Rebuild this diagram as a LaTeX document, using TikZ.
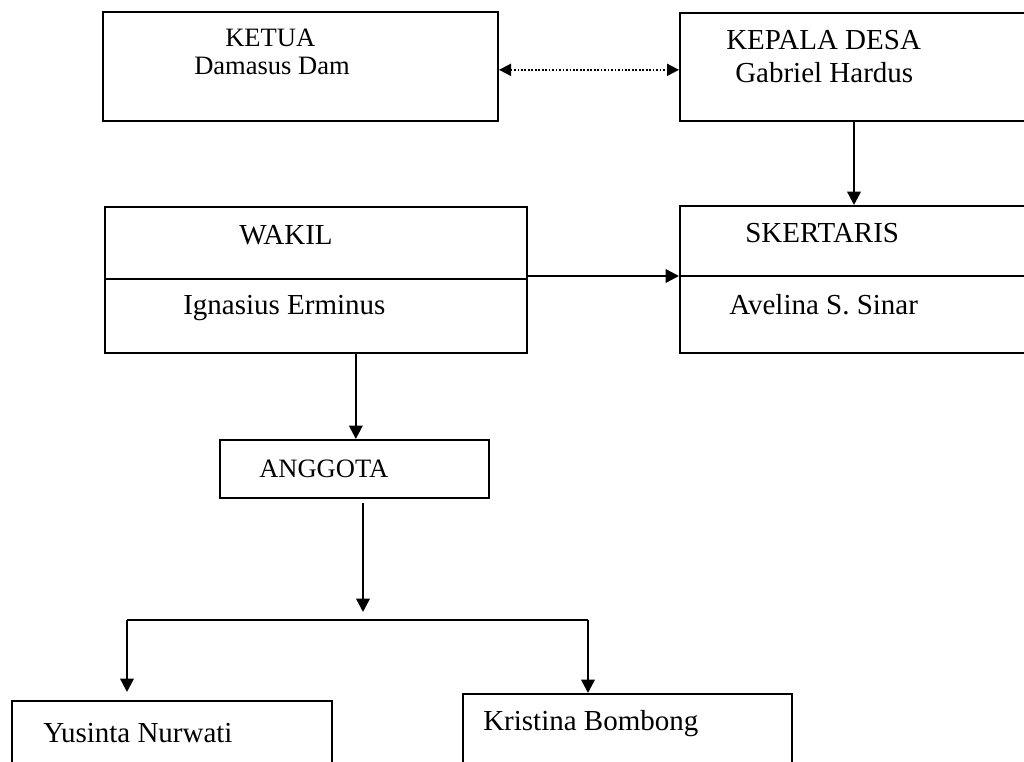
\documentclass[tikz,border=0pt]{standalone}
\usepackage{fontspec}
\setmainfont{Liberation Serif}
\usetikzlibrary{arrows.meta}
\begin{document}
\begin{tikzpicture}[x=0.75pt,y=-0.75pt,
  box/.style={draw, line width=1.5pt, rectangle, inner sep=0pt, anchor=north west},
  lbl/.style={anchor=base west, inner sep=0pt, font=\fontsize{21.75}{26}\selectfont},
  lblsm/.style={anchor=base west, inner sep=0pt, font=\fontsize{19.9}{24}\selectfont},
  conn/.style={line width=1.8pt, -{Triangle[length=10pt,width=10pt]}},
  plain/.style={line width=1.5pt},
  dots/.style={line width=1.3pt, dash pattern=on 1.3pt off 1.3pt,
    {Triangle[length=9pt,width=9pt]}-{Triangle[length=9pt,width=9pt]}}
]
\useasboundingbox (0,0) rectangle (1024,762);
\clip (0,0) rectangle (1024,762);

% boxes
\node[box, minimum width=296.25pt, minimum height=81.75pt] (ketua) at (102,11) {};
\node[box, minimum width=261pt, minimum height=81pt] (kepala) at (679,12) {};
\node[box, minimum width=316.5pt, minimum height=109.5pt] (wakil) at (104,206) {};
\node[box, minimum width=261pt, minimum height=110.25pt] (sekr) at (679,205) {};
\node[box, minimum width=201.75pt, minimum height=43.5pt] (anggota) at (219,439) {};
\node[box, minimum width=240pt, minimum height=75pt] (yusinta) at (11,700) {};
\node[box, minimum width=246.75pt, minimum height=75pt] (kristina) at (462,693) {};

% dividers
\draw[plain] (104,279) -- (526,279);
\draw[plain] (679,276) -- (1030,276);

% labels
\node[lblsm] (tketua) at (225,47) {KETUA};
\node[lblsm] (tdamasus) at (194,75) {Damasus Dam};
\node[lbl] (tkepala) at (726,50) {KEPALA DESA};
\node[lbl] (tgabriel) at (735,83) {Gabriel Hardus};
\node[lbl] (twakil) at (239,245) {WAKIL};
\node[lbl] (tignasius) at (183,315) {Ignasius Erminus};
\node[lbl] (tsekr) at (745,243) {SKERTARIS};
\node[lbl] (tavelina) at (729,315) {Avelina S. Sinar};
\node[lblsm] (tanggota) at (259,478) {ANGGOTA};
\node[lbl] (tyusinta) at (43,742) {Yusinta Nurwati};
\node[lbl] (tkristina) at (483,730) {Kristina Bombong};

% connectors
\draw[dots] ([yshift=-2.5pt]ketua.east) -- ([yshift=-2.5pt]ketua.east -| kepala.west);
\draw[conn] (kepala.south) -- (kepala.south |- sekr.north);
\draw[conn] ([yshift=3pt]wakil.east) -- ([yshift=3pt]wakil.east -| sekr.west);
\draw[conn] ([xshift=1pt]wakil.south -| anggota.north) -- ([xshift=1pt]anggota.north);

\coordinate (stemtop) at (363,503);
\coordinate (split) at (363,620);
\coordinate (hl) at (127,620);
\coordinate (hr) at (588,620);
\draw[conn, shorten >=6pt] (stemtop) -- (split);
\draw[plain] (hl) -- (hr);
\draw[conn, shorten >=6pt] (hl) -- (hl |- yusinta.north);
\draw[conn] (hr) -- (hr |- kristina.north);
\end{tikzpicture}
\end{document}
